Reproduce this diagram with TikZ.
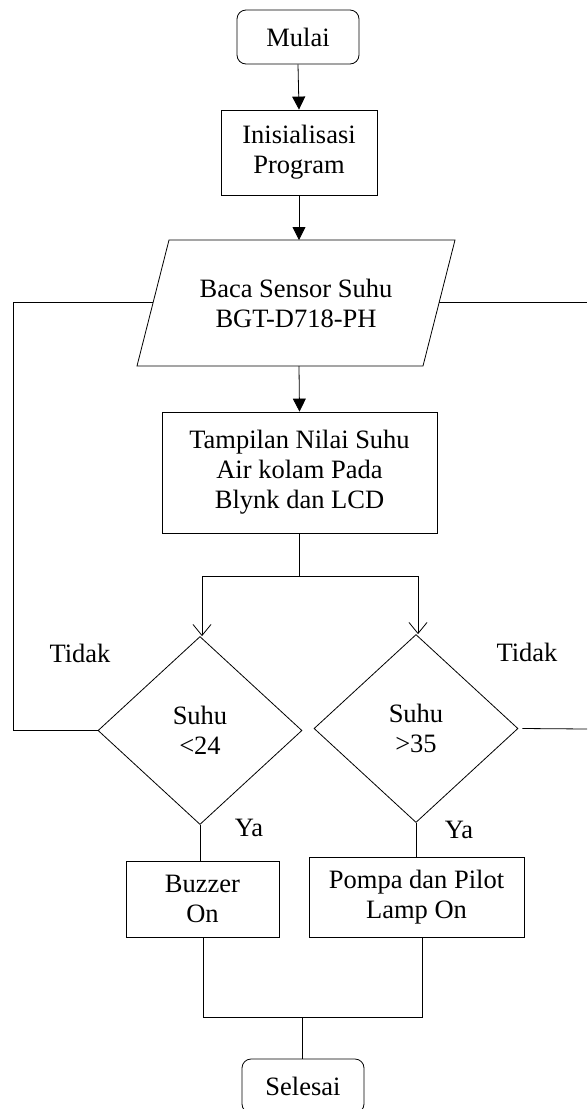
\documentclass[tikz,border=0pt]{standalone}
\usepackage{fontspec}
\setmainfont{Liberation Serif}
\usetikzlibrary{arrows.meta,shapes.geometric}
\begin{document}
\begin{tikzpicture}[x=1pt,y=-1pt,
  every node/.style={font=\fontsize{26.5}{30}\selectfont, align=center, inner sep=0pt},
  proc/.style={draw, rectangle, line width=0.8pt},
  term/.style={draw, rectangle, rounded corners=9pt, line width=0.8pt},
  dec/.style={draw, diamond, line width=0.8pt, minimum width=204pt, minimum height=188pt},
  flow/.style={line width=0.8pt},
  farrow/.style={flow, -{Triangle[length=13pt,width=13pt]}},
  oarrow/.style={flow, -{Straight Barb[length=11pt,width=18pt]}}]
\useasboundingbox (0,0) rectangle (587,1109);
\clip (0,0) rectangle (587,1109);
% terminals and processes
\node[term, minimum width=122pt, minimum height=54pt] (mulai) at (298,37) {Mulai};
\node[proc, minimum width=156pt, minimum height=85pt] (init) at (299,152.5) {Inisialisasi\\Program};
% parallelogram
\coordinate (pTL) at (169,240);
\coordinate (pTR) at (455,240);
\coordinate (pBR) at (423,366);
\coordinate (pBL) at (137,366);
\draw[flow] (pTL) -- (pTR) -- (pBR) -- (pBL) -- cycle;
\node (baca) at (296,303) {Baca Sensor Suhu\\BGT-D718-PH};
\coordinate (pIn) at (299,240);
\coordinate (pOut) at (299,366);
\coordinate (pL) at (153,302);
\coordinate (pR) at (439,302);
\node[proc, minimum width=275pt, minimum height=121pt] (tampil) at (299.5,472.5) {Tampilan Nilai Suhu\\Air kolam Pada\\Blynk dan LCD};
\draw[farrow] (mulai.south) -- (init.north);
\draw[farrow] (init.south) -- (pIn);
\draw[farrow] (pOut) -- (tampil.north);
% split
\coordinate (split) at (299,576);
\coordinate (sL) at (202,576);
\coordinate (sR) at (418,576);
\node[dec] (d1) at (200,730.5) {Suhu\\<24};
\node[dec] (d2) at (416,728.5) {Suhu\\>35};
\draw[flow] (tampil.south -| split) -- (split);
\draw[flow] (sL) -- (sR);
\draw[oarrow] (sL) -- (sL |- d1.north);
\draw[oarrow] (sR) -- (sR |- d2.north);
% labels
\node (t1) at (80,653) {Tidak};
\node (t2) at (527,652) {Tidak};
\node (y1) at (249,828) {Ya};
\node (y2) at (459,830) {Ya};
% loops
\coordinate (lc1) at (13,730.5);
\coordinate (lc2) at (13,302);
\draw[flow] (d1.west) -- (lc1) -- (lc2) -- (pL);
\coordinate (rEnd1) at (587,302);
\coordinate (rEnd2) at (587,729);
\draw[flow] (pR) -- (rEnd1);
\draw[flow] ([xshift=4pt]d2.east) -- (rEnd2);
% actions
\node[proc, minimum width=153pt, minimum height=76pt] (buzz) at (202.5,899) {Buzzer\\On};
\node[proc, minimum width=215pt, minimum height=80pt] (pompa) at (416.5,897) {Pompa dan Pilot\\Lamp On};
\draw[flow] (d1.south) -- (d1.south |- buzz.north);
\draw[flow] (d2.south) -- (d2.south |- pompa.north);
% join
\node[term, minimum width=122pt, minimum height=54pt] (selesai) at (303,1086) {Selesai};
\coordinate (jL) at (203,1017);
\coordinate (jR) at (422,1017);
\coordinate (jM) at (302,1017);
\draw[flow] (buzz.south -| jL) -- (jL) -- (jR) -- (pompa.south -| jR);
\draw[flow] (jM) -- (selesai.north -| jM);
\end{tikzpicture}
\end{document}
